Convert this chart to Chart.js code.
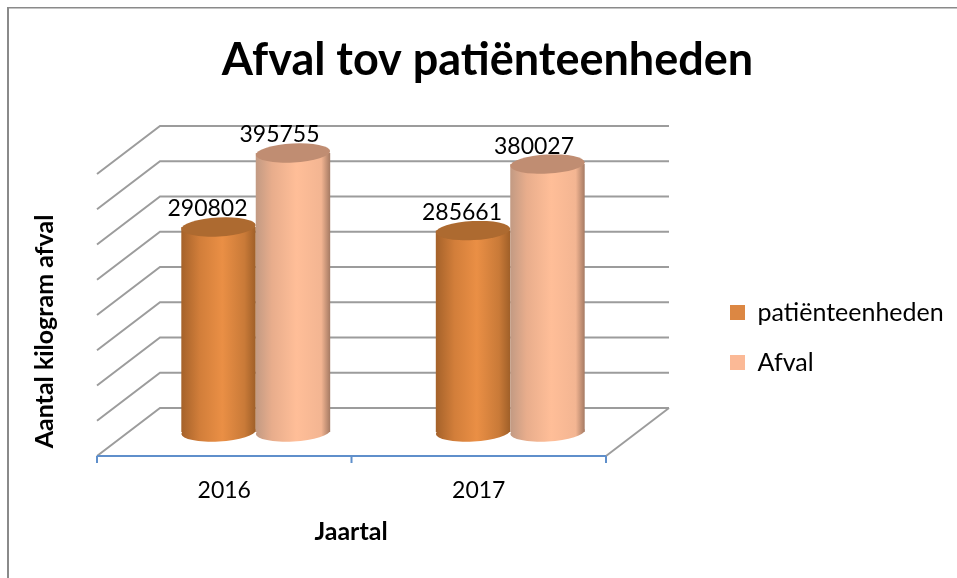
<!DOCTYPE html>
<html>
<head>
<meta charset="utf-8">
<title>Afval tov patiënteenheden</title>
<script src="https://cdn.jsdelivr.net/npm/chart.js@4"></script>
<style>
    html, body { margin: 0; padding: 0; background: #fff; }
    #wrap { width: 957px; height: 578px; }
</style>
</head>
<body>
<div id="wrap"><canvas id="afvalChart" width="957" height="578"></canvas></div>
<script>
const categories = ['2016', '2017'];
const patienteenheden = [290802, 285661];
const afval = [395755, 380027];
const seriesNames = ['patiënteenheden', 'Afval'];
const legendColors = ['#DC8743', '#FBB996'];
const capColors = ['#AD6A30', '#C08D72'];
const labelShift = [-11, -13.5];
const gradientStops = [
    [[0, '#A5622A'], [0.25, '#D27E3A'], [0.55, '#EA8F45'], [0.85, '#C97A38'], [1, '#9F5F28']],
    [[0, '#C29A83'], [0.22, '#E8AD8C'], [0.55, '#FFBE98'], [0.88, '#F3B592'], [1, '#A57A63']]
];

const FONT = 'Lato';
const DEPTH_X = 31.5;   // halve diepte van de 3D bak
const DEPTH_Y = 24;
const RY = 9.5;
const TILT = -3 * Math.PI / 180;

function barGradient(chart, datasetIndex, dataIndex) {
    const x = chart.scales.x;
    const center = x.getPixelForValue(dataIndex);
    const barW = (x.width / categories.length) * 0.585 / 2;
    const left = datasetIndex === 0 ? center - barW : center;
    const g = chart.ctx.createLinearGradient(left, 0, left + barW, 0);
    gradientStops[datasetIndex].forEach(s => g.addColorStop(s[0], s[1]));
    return g;
}

function ellipse(ctx, x, y, rx, fill) {
    ctx.beginPath();
    ctx.ellipse(x, y, rx, RY, TILT, 0, Math.PI * 2);
    ctx.fillStyle = fill;
    ctx.fill();
}

const box3d = {
    id: 'box3d',
    afterLayout(chart) {
        // titel en legenda staan los van het plotgebied
        chart.titleBlock.left = 18;
        chart.titleBlock.right = 957;
        const lg = chart.legend;
        lg.left = 705;
        lg.right = 957;
        lg.top = 275;
        lg.bottom = 520;
    },
    beforeDraw(chart) {
        const ctx = chart.ctx;
        ctx.save();
        ctx.fillStyle = '#8A8A8A';
        ctx.fillRect(7, 7, 950, 1.5);
        ctx.fillRect(7, 7, 2, 571);
        ctx.restore();
    },
    beforeDatasetsDraw(chart) {
        const { ctx, scales: { x, y } } = chart;
        ctx.save();
        ctx.strokeStyle = '#9C9C9C';
        ctx.lineWidth = 2;
        y.ticks.forEach(t => {
            const py = y.getPixelForValue(t.value);
            ctx.beginPath();
            ctx.moveTo(x.left - DEPTH_X, py + DEPTH_Y);
            ctx.lineTo(x.left + DEPTH_X, py - DEPTH_Y);
            ctx.lineTo(x.right + DEPTH_X, py - DEPTH_Y);
            ctx.stroke();
        });
        const base = y.getPixelForValue(0);
        ctx.beginPath();
        ctx.moveTo(x.right + DEPTH_X, base - DEPTH_Y);
        ctx.lineTo(x.right - DEPTH_X, base + DEPTH_Y);
        ctx.stroke();
        // voorste as met streepjes
        ctx.strokeStyle = '#5F8FCB';
        ctx.lineWidth = 2;
        ctx.beginPath();
        ctx.moveTo(x.left - DEPTH_X, base + DEPTH_Y);
        ctx.lineTo(x.right - DEPTH_X, base + DEPTH_Y);
        for (let i = 0; i <= categories.length; i++) {
            const tx = x.left - DEPTH_X + i * x.width / categories.length;
            ctx.moveTo(tx, base + DEPTH_Y);
            ctx.lineTo(tx, base + DEPTH_Y + 7);
        }
        ctx.stroke();
        ctx.restore();
    },
    // Afval moet over patiënteenheden heen, dus zelf de volgorde bepalen
    beforeDatasetDraw() {
        return false;
    },
    afterDatasetsDraw(chart) {
        const ctx = chart.ctx;
        ctx.save();
        chart.data.datasets.forEach((ds, d) => {
            chart.getDatasetMeta(d).data.forEach((bar, i) => {
                ellipse(ctx, bar.x, bar.base, bar.width / 2, barGradient(chart, d, i));
                bar.draw(ctx);
                ellipse(ctx, bar.x, bar.y, bar.width / 2, capColors[d]);
            });
        });
        ctx.fillStyle = '#000';
        ctx.font = '23px ' + FONT;
        ctx.textAlign = 'center';
        ctx.textBaseline = 'middle';
        chart.data.datasets.forEach((ds, d) => {
            chart.getDatasetMeta(d).data.forEach((bar, i) => {
                ctx.fillText(String(ds.data[i]), bar.x + labelShift[d], bar.y - 18);
            });
        });
        // astitels
        ctx.font = 'bold 25px ' + FONT;
        ctx.fillText('Jaartal', 351, 532);
        ctx.translate(45, 331.5);
        ctx.rotate(-Math.PI / 2);
        ctx.fillText('Aantal kilogram afval', 0, 0);
        ctx.restore();
    }
};

new Chart(document.getElementById('afvalChart'), {
    type: 'bar',
    data: {
        labels: categories,
        datasets: [
            {
                label: seriesNames[0],
                data: patienteenheden,
                backgroundColor: c => barGradient(c.chart, c.datasetIndex, c.dataIndex)
            },
            {
                label: seriesNames[1],
                data: afval,
                backgroundColor: c => barGradient(c.chart, c.datasetIndex, c.dataIndex)
            }
        ]
    },
    options: {
        responsive: false,
        animation: false,
        categoryPercentage: 0.585,
        barPercentage: 1,
        layout: { padding: { left: 128.5, right: 319.5, top: 0, bottom: 0 } },
        scales: {
            x: {
                grid: { display: false },
                border: { display: false },
                ticks: {
                    font: { family: FONT, size: 23 },
                    color: '#000',
                    padding: 37,
                    labelOffset: -31.5,
                    maxRotation: 0
                },
                afterFit: s => { s.height = 146; }
            },
            y: {
                display: false,
                min: 0,
                max: 400000,
                ticks: { stepSize: 50000 }
            }
        },
        plugins: {
            title: {
                display: true,
                text: 'Afval tov patiënteenheden',
                color: '#000',
                font: { family: FONT, size: 45, weight: 'bold', lineHeight: 1.2 },
                padding: { top: 33.4, bottom: 62.6 }
            },
            legend: {
                position: 'chartArea',
                align: 'start',
                labels: {
                    color: '#000',
                    font: { family: FONT, size: 25 },
                    boxWidth: 15,
                    boxHeight: 15,
                    padding: 25,
                    generateLabels: () => seriesNames.map((n, i) => ({
                        text: n, fillStyle: legendColors[i], strokeStyle: legendColors[i],
                        lineWidth: 0, datasetIndex: i
                    }))
                }
            },
            tooltip: { enabled: false }
        }
    },
    plugins: [box3d]
});
</script>
</body>
</html>
